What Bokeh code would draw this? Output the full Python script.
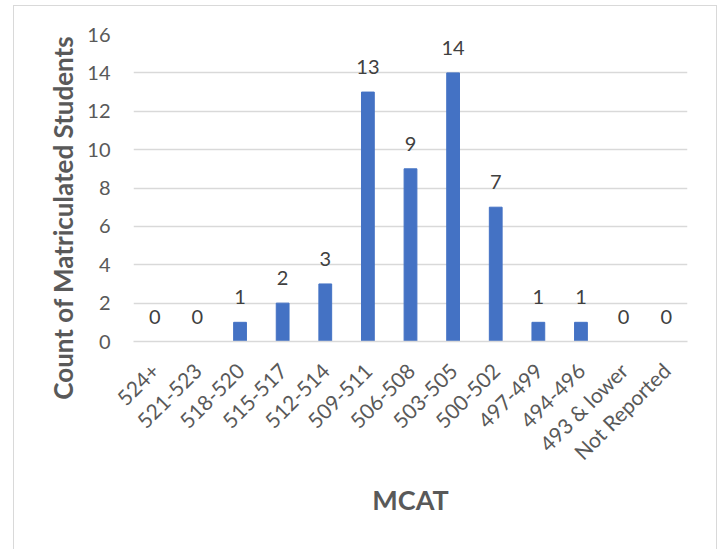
import math
from bokeh.plotting import figure
from bokeh.layouts import row
from bokeh.models import FactorRange, Range1d, FixedTicker, Div, ColumnDataSource
from bokeh.core.properties import value
from bokeh.embed import file_html
from bokeh.resources import INLINE

categories = ["524+", "521-523", "518-520", "515-517", "512-514", "509-511",
              "506-508", "503-505", "500-502", "497-499", "494-496",
              "493 & lower", "Not Reported"]
counts = [0, 0, 1, 2, 3, 13, 9, 14, 7, 1, 1, 0, 0]
y_ticks = [0, 2, 4, 6, 8, 10, 12, 14, 16]
y_title = "Count of Matriculated Students"
x_title = "MCAT"

FONT = "Lato"
GRID = "#D9D9D9"
TXT = "#595959"

src = ColumnDataSource(dict(cat=categories, n=counts, lab=[str(c) for c in counts]))

# narrow strip holding the vertical axis title (centred like the original);
# the Div carries a default 5px margin on every side
title_html = (
    '<div style="position:absolute; left:45px; top:207px; '
    'transform:translate(-50%,-50%) rotate(-90deg); white-space:nowrap; '
    f'font-family:{FONT}; font-weight:bold; font-size:26px; color:{TXT};">'
    f'{y_title}</div>'
)
t = Div(text=title_html, width=60, height=533,
        styles={"position": "relative", "overflow": "visible"})

p = figure(x_range=FactorRange(*categories, range_padding=0),
           y_range=Range1d(0, 16),
           width=632, height=543,
           output_backend="svg", toolbar_location=None,
           min_border_left=49, min_border_right=29,
           min_border_top=28, min_border_bottom=208)

p.vbar(x="cat", top="n", width=0.3, source=src, color="#4472C4")
p.text(x="cat", y="n", text="lab", source=src, text_align="center",
       text_baseline="alphabetic", y_offset=-25, text_font=value(FONT),
       text_font_size="20px", text_color="#404040")

p.outline_line_color = None
p.xgrid.grid_line_color = None
p.ygrid.grid_line_color = GRID
p.ygrid.grid_line_width = 1.5

p.yaxis.ticker = FixedTicker(ticks=y_ticks)
p.yaxis.axis_line_color = None
p.yaxis.major_tick_line_color = None
p.yaxis.minor_tick_line_color = None
p.yaxis.major_label_standoff = 17
p.yaxis.major_label_text_font = FONT
p.yaxis.major_label_text_font_size = "20px"
p.yaxis.major_label_text_color = TXT

p.xaxis.axis_line_color = GRID
p.xaxis.axis_line_width = 1.5
p.xaxis.major_tick_line_color = None
p.xaxis.minor_tick_line_color = None
p.xaxis.major_label_orientation = math.pi / 4
p.xaxis.major_label_standoff = 19
p.xaxis.major_label_text_font = FONT
p.xaxis.major_label_text_font_size = "21px"
p.xaxis.major_label_text_color = TXT
p.xaxis.axis_label = x_title
p.xaxis.axis_label_standoff = 7
p.xaxis.axis_label_text_font = FONT
p.xaxis.axis_label_text_font_style = "bold"
p.xaxis.axis_label_text_font_size = "27px"
p.xaxis.axis_label_text_color = TXT

layout = row(t, p, spacing=0,
             styles={"border-top": "1px solid #D9D9D9",
                     "border-left": "1px solid #D9D9D9",
                     "border-right": "1px solid #D9D9D9",
                     "margin-left": "13px", "margin-top": "5px"})

open("out.html", "w").write(file_html(layout, INLINE))
